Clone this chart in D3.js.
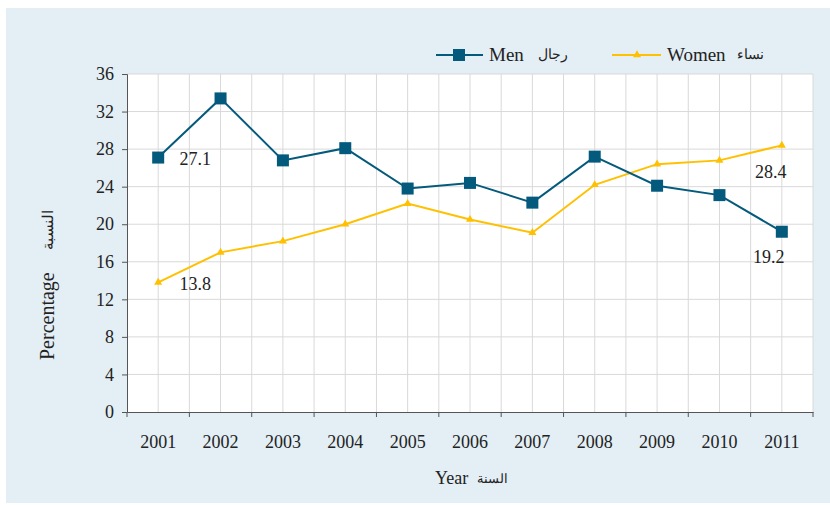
<!DOCTYPE html>
<html><head><meta charset="utf-8">
<script src="https://cdn.jsdelivr.net/npm/d3@7/dist/d3.min.js"></script>
<style>body{margin:0;background:#fff}svg{display:block}</style>
</head><body>
<svg id="c" width="830" height="505"></svg>
<script>
const years = ["2001","2002","2003","2004","2005","2006","2007","2008","2009","2010","2011"];
const men = [27.1,33.4,26.8,28.1,23.8,24.4,22.3,27.2,24.1,23.1,19.2];
const women = [13.8,17.0,18.2,20.0,22.2,20.5,19.1,24.2,26.4,26.8,28.4];
const yTicks = [0,4,8,12,16,20,24,28,32,36];
const menColor = "#045a7d", womenColor = "#ffc000";
const SERIF = "'Liberation Serif','Times New Roman','DejaVu Serif',serif";

const svg = d3.select("#c");
svg.append("rect").attr("x",6).attr("y",8).attr("width",824).attr("height",495).attr("fill","#e3eef5");

const L=127,R=813,T=74,B=412;
const x = d3.scaleBand().domain(years).range([L,R]);
const y = d3.scaleLinear().domain([0,36]).range([B,T]);
const cx = d => x(d)+x.bandwidth()/2;

svg.append("rect").attr("x",L).attr("y",T).attr("width",R-L).attr("height",B-T).attr("fill","#fff");
const grid = svg.append("g").attr("stroke","#d9d9d9").attr("stroke-width",1);
yTicks.filter(t=>t>0).forEach(t=>grid.append("line").attr("x1",L).attr("x2",R).attr("y1",y(t)).attr("y2",y(t)));
years.forEach(d=>{
  grid.append("line").attr("x1",cx(d)).attr("x2",cx(d)).attr("y1",T).attr("y2",B);
  grid.append("line").attr("x1",x(d)+x.bandwidth()).attr("x2",x(d)+x.bandwidth()).attr("y1",T).attr("y2",B);
});

const yAxis = svg.append("g").attr("transform",`translate(${L},0)`)
  .call(d3.axisLeft(y).tickValues(yTicks).tickSize(5).tickPadding(8));
yAxis.attr("font-family",SERIF);
yAxis.selectAll("text").style("font-family",SERIF).style("font-size","18px").attr("fill","#222");
yAxis.select(".domain").attr("stroke","#555");
yAxis.selectAll(".tick line").attr("stroke","#555");

const xAxis = svg.append("g").attr("transform",`translate(0,${B})`)
  .call(d3.axisBottom(x).tickSize(0).tickPadding(23));
xAxis.attr("font-family",SERIF);
xAxis.selectAll("text").style("font-family",SERIF).style("font-size","18px").attr("fill","#222");
xAxis.select(".domain").attr("stroke","#555");
const bounds = [L].concat(years.map(d=>x(d)+x.bandwidth()));
xAxis.selectAll(".bt").data(bounds).enter().append("line").attr("class","bt")
  .attr("x1",d=>d).attr("x2",d=>d).attr("y1",0).attr("y2",5).attr("stroke","#555");

const line = d3.line().x((d,i)=>cx(years[i])).y(d=>y(d));
svg.append("path").datum(women).attr("d",line).attr("fill","none").attr("stroke",womenColor).attr("stroke-width",2);
svg.append("path").datum(men).attr("d",line).attr("fill","none").attr("stroke",menColor).attr("stroke-width",2);
const tri = d3.symbol().type(d3.symbolTriangle).size(28);
svg.selectAll(".wm").data(women).enter().append("path")
  .attr("transform",(d,i)=>`translate(${cx(years[i])},${y(d)})`).attr("d",tri).attr("fill",womenColor);
svg.selectAll(".mm").data(men).enter().append("rect")
  .attr("x",(d,i)=>cx(years[i])-6).attr("y",d=>y(d)-6).attr("width",12).attr("height",12).attr("fill",menColor);

function txt(g,s,xx,yy,size,anchor){
  return g.append("text").attr("x",xx).attr("y",yy).attr("text-anchor",anchor||"start")
    .style("font-family",SERIF).style("font-size",size+"px").attr("fill","#222").text(s);
}
txt(svg,men[0].toFixed(1), cx(years[0])+37, y(men[0])+7,18,"middle");
txt(svg,women[0].toFixed(1), cx(years[0])+37, y(women[0])+8,18,"middle");
txt(svg,women[10].toFixed(1), cx(years[10])-11, y(women[10])+33,18,"middle");
txt(svg,men[10].toFixed(1), cx(years[10])-13, y(men[10])+31,18,"middle");

// legend
const lg = svg.append("g");
lg.append("line").attr("x1",436).attr("x2",483).attr("y1",55).attr("y2",55).attr("stroke",menColor).attr("stroke-width",2);
lg.append("rect").attr("x",453).attr("y",49).attr("width",12).attr("height",12).attr("fill",menColor);
txt(lg,"Men",489,61,19);
txt(lg,"رجال",568,59,14,"end");
lg.append("line").attr("x1",612).attr("x2",661).attr("y1",55).attr("y2",55).attr("stroke",womenColor).attr("stroke-width",2);
lg.append("path").attr("transform","translate(637,55)").attr("d",tri).attr("fill",womenColor);
txt(lg,"Women",667,61,19);
txt(lg,"نساء",764,59,14,"end");

// axis titles
const yt = svg.append("g").attr("transform","translate(54,0) rotate(-90)");
txt(yt,"Percentage",-360,0,20);
txt(yt,"النسبة",-210,-1,15,"end");
txt(svg,"Year",435,484,18);
txt(svg,"السنة",508,483,13,"end");
</script>
</body></html>
